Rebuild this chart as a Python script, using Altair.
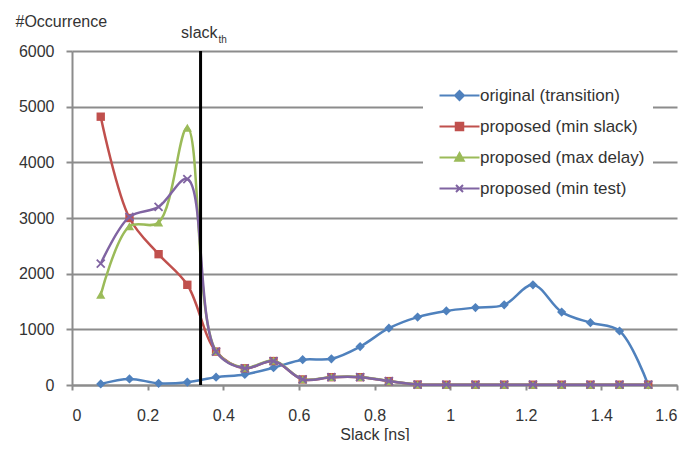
import altair as alt
import pandas as pd

FONT = "Liberation Sans"
TXT = "#333333"
GRID = "#8c8c8c"

# ---- data ----
slack = [0.076, 0.152, 0.229, 0.305, 0.381, 0.457, 0.533, 0.610, 0.686, 0.762,
         0.838, 0.914, 0.990, 1.067, 1.143, 1.219, 1.295, 1.371, 1.448, 1.524]
names = ["original (transition)", "proposed (min slack)",
         "proposed (max delay)", "proposed (min test)"]
original = [20, 110, 30, 50, 140, 190, 310, 455, 470, 690,
            1020, 1220, 1330, 1390, 1440, 1800, 1310, 1120, 970, 0]
min_slack = [4820, 3000, 2350, 1800, 600, 300, 430, 100, 140, 140,
             70, 8, 5, 5, 5, 5, 5, 5, 5, 5]
max_delay = [1620, 2850, 2920, 4620, 610, 310, 440, 105, 145, 145,
             72, 8, 5, 5, 5, 5, 5, 5, 5, 5]
min_test = [2180, 3020, 3200, 3700, 600, 300, 430, 100, 140, 140,
            70, 8, 5, 5, 5, 5, 5, 5, 5, 5]
threshold = [0.34]
x_ticks = [0, 0.2, 0.4, 0.6, 0.8, 1.0, 1.2, 1.4, 1.6]
y_ticks = [0, 1000, 2000, 3000, 4000, 5000, 6000]
colors = ["#4F81BD", "#C0504D", "#9BBB59", "#8064A2"]

series_values = [original, min_slack, max_delay, min_test]
marker_shapes = ["diamond", "square", "triangle-up", "M-1,-1L1,1M-1,1L1,-1"]
marker_sizes = [85, 70, 85, 64]
legend_paths = [
    "M-4,0H4M0,-0.9L0.9,0L0,0.9L-0.9,0Z",
    "M-4,0H4M-0.75,-0.75H0.75V0.75H-0.75Z",
    "M-4,0H4M0,-0.9L0.85,0.65H-0.85Z",
    "M-4,0H4M-0.7,-0.7L0.7,0.7M-0.7,0.7L0.7,-0.7",
]

X_enc = alt.X(
    "slack:Q", title="Slack [ns]",
    scale=alt.Scale(domain=[0, 1.6], nice=False, zero=False),
    axis=alt.Axis(values=x_ticks, format=".1~f", grid=False, tickSize=5,
                  labelPadding=30, labelBaseline="alphabetic",
                  titleY=54, titleBaseline="alphabetic"),
)
Y_enc = alt.Y(
    "count:Q", title="#Occurrence",
    scale=alt.Scale(domain=[0, 6000], nice=False),
    axis=alt.Axis(values=y_ticks, format="d", grid=True, ticks=True, tickSize=6,
                  labelPadding=12, labelAlign="right",
                  titleAngle=0, titleAlign="left", titleX=-57, titleY=-25,
                  titleBaseline="alphabetic"),
)

layers = []
for name, vals, col, shp, sz in zip(names, series_values, colors, marker_shapes, marker_sizes):
    df = pd.DataFrame({"slack": slack, "count": vals, "series": name})
    base = alt.Chart(df)
    layers.append(base.mark_line(color=col, strokeWidth=2.5,
                                 interpolate="catmull-rom").encode(x=X_enc, y=Y_enc))
    if shp.startswith("M"):
        pts = base.mark_point(shape=shp, size=sz, filled=False, stroke=col,
                              strokeWidth=1.8, opacity=1)
    else:
        pts = base.mark_point(shape=shp, size=sz, filled=True, color=col, opacity=1)
    layers.append(pts.encode(x=X_enc, y=Y_enc))

th_df = pd.DataFrame({"slack": threshold, "count": [0], "count_top": [6000]})
rule = alt.Chart(th_df).mark_rule(color="black", strokeWidth=3).encode(
    x=X_enc, y=Y_enc, y2="count_top:Q")
top_df = pd.DataFrame({"slack": threshold, "count": [6000]})
lab1 = alt.Chart(top_df).mark_text(text="slack", align="right", baseline="alphabetic",
                                   dx=17, dy=-13, fontSize=16, font=FONT, color=TXT).encode(
    x=X_enc, y=Y_enc)
lab2 = alt.Chart(top_df).mark_text(text="th", align="left", baseline="alphabetic",
                                   dx=18, dy=-8, fontSize=10, font=FONT, color=TXT).encode(
    x=X_enc, y=Y_enc)

leg = alt.Legend(title=None, orient="none", legendX=351, legendY=28,
                 fillColor="white", padding=8, symbolSize=100,
                 symbolStrokeWidth=2, symbolOffset=20, labelOffset=12,
                 rowPadding=13, labelFontSize=17, labelFont=FONT,
                 labelColor=TXT, labelLimit=400)
leg_df = pd.DataFrame({"series": names})
legend_layer = alt.Chart(leg_df).mark_point(filled=True, size=100, opacity=1).encode(
    shape=alt.Shape("series:N", scale=alt.Scale(domain=names, range=legend_paths), legend=leg),
    fill=alt.Fill("series:N", scale=alt.Scale(domain=names, range=colors), legend=leg),
    stroke=alt.Stroke("series:N", scale=alt.Scale(domain=names, range=colors), legend=leg),
).transform_filter("false")

chart = alt.layer(*layers, rule, lab1, lab2, legend_layer).properties(
    width=605, height=334,
    autosize=alt.AutoSizeParams(type="none"),
    padding={"left": 64, "top": 43, "right": 4, "bottom": 56},
    background="white",
).configure_view(stroke="transparent").configure_axis(
    domainColor=GRID, domainWidth=2, tickColor=GRID, tickWidth=2,
    gridColor=GRID, gridWidth=2,
    labelFont=FONT, labelFontSize=16, labelColor=TXT,
    titleFont=FONT, titleFontSize=16, titleColor=TXT, titleFontWeight="normal",
)

chart.save("out.html", embed_options={"renderer": "svg", "actions": False})
